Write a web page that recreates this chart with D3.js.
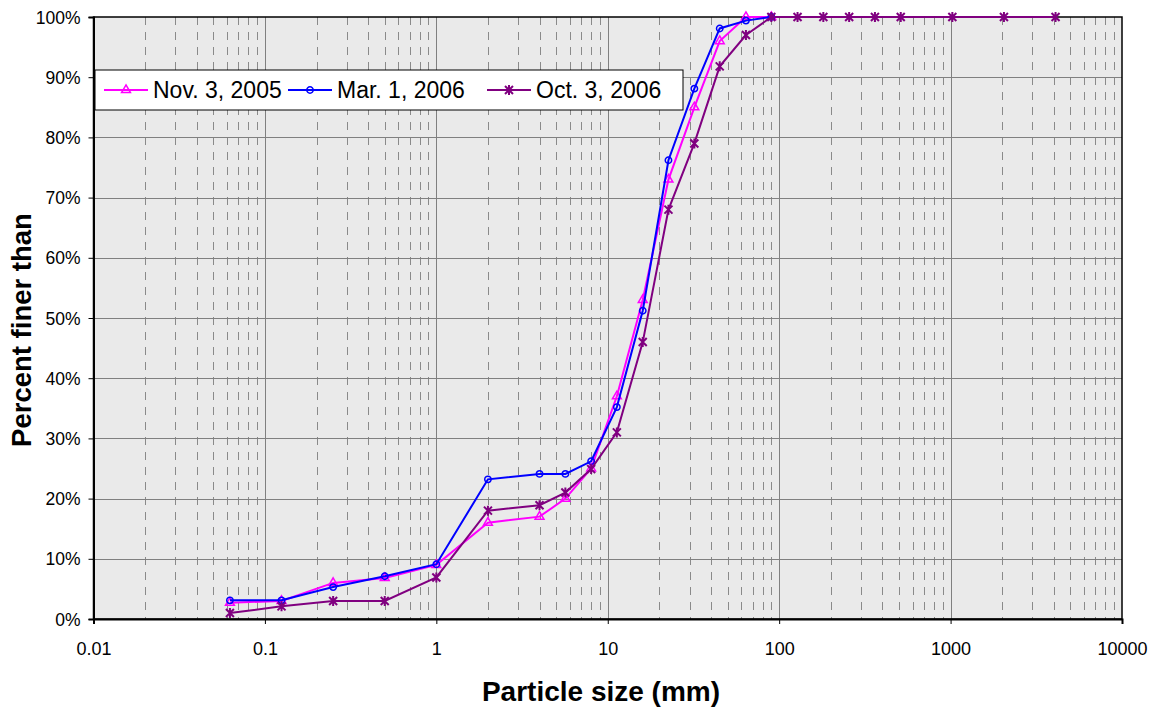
<!DOCTYPE html>
<html>
<head>
<meta charset="utf-8">
<script src="https://cdn.jsdelivr.net/npm/d3@7"></script>
<style>
body { margin: 0; background: #fff; }
text { font-family: Arial, "Liberation Sans", sans-serif; }
</style>
</head>
<body>
<svg id="chart" width="1156" height="711"></svg>
<script>
// sieve sizes (mm)
const sizes = [0.0625, 0.125, 0.25, 0.5, 1, 2, 4, 5.66, 8, 11.3, 16, 22.6, 32, 45, 64, 90,
  128, 181, 256, 362, 512, 1024, 2048, 4096];
const nov2005 = [2.7, 3, 6, 6.8, 9, 16, 17, 20, 25, 37, 53, 73, 85, 96, 100, 100];
const mar2006 = [3.1, 3.1, 5.3, 7.1, 9.1, 23.2, 24.1, 24.1, 26.2, 35.2, 51.2, 76.2, 88.1, 98.1, 99.4, 100];
const oct2006 = [1, 2.1, 3, 3, 6.9, 18, 18.9, 21, 24.9, 31, 46, 68, 79, 91.8, 97, 100,
  100, 100, 100, 100, 100, 100, 100, 100];
const seriesNames = ["Nov. 3, 2005", "Mar. 1, 2006", "Oct. 3, 2006"];
const seriesColors = ["#FF00FF", "#0000FF", "#800080"];
const xTicks = [0.01, 0.1, 1, 10, 100, 1000, 10000];
const yTicks = [0, 10, 20, 30, 40, 50, 60, 70, 80, 90, 100];

const svg = d3.select("#chart");
const pLeft = 93.5, pRight = 1122, pTop = 17, pBottom = 619;

const x = d3.scaleLog().domain([0.01, 10000]).range([pLeft, pRight]);
const y = d3.scaleLinear().domain([0, 100]).range([pBottom, pTop]);

// plot background
svg.append("rect")
  .attr("x", pLeft).attr("y", pTop)
  .attr("width", pRight - pLeft).attr("height", pBottom - pTop)
  .attr("fill", "#EAEAEA");

// minor vertical dashed grid
const minors = [];
for (let e = -2; e < 4; e++) {
  for (let m = 2; m <= 9; m++) minors.push(m * Math.pow(10, e));
}
svg.append("g").selectAll("line")
  .data(minors)
  .join("line")
  .attr("x1", d => Math.round(x(d)) + 0.5).attr("x2", d => Math.round(x(d)) + 0.5)
  .attr("y1", pTop).attr("y2", pBottom)
  .attr("stroke", "#8a8a8a")
  .attr("stroke-width", 1)
  .attr("stroke-dasharray", "8,7");

// major grid
svg.append("g").selectAll("line")
  .data(xTicks.slice(1, -1))
  .join("line")
  .attr("x1", d => Math.round(x(d)) + 0.5).attr("x2", d => Math.round(x(d)) + 0.5)
  .attr("y1", pTop).attr("y2", pBottom)
  .attr("stroke", "#808080");

svg.append("g").selectAll("line")
  .data(yTicks.slice(1, -1))
  .join("line")
  .attr("x1", pLeft).attr("x2", pRight)
  .attr("y1", d => Math.round(y(d)) + 0.5).attr("y2", d => Math.round(y(d)) + 0.5)
  .attr("stroke", "#808080");

// border
svg.append("rect")
  .attr("x", pLeft).attr("y", pTop)
  .attr("width", pRight - pLeft).attr("height", pBottom - pTop)
  .attr("fill", "none").attr("stroke", "#000").attr("stroke-width", 1.5);

// axes
const xAxis = d3.axisBottom(x).tickValues(xTicks).tickFormat(d => String(d)).tickSize(5).tickPadding(18);
const yAxis = d3.axisLeft(y).tickValues(yTicks).tickFormat(d => d + "%").tickSize(5).tickPadding(8);

const gx = svg.append("g").attr("transform", `translate(0,${pBottom})`).call(xAxis);
const gy = svg.append("g").attr("transform", `translate(${pLeft},0)`).call(yAxis);
[gx, gy].forEach(g => {
  g.select(".domain").attr("stroke", "#000").attr("stroke-width", 2);
  g.selectAll(".tick line").attr("stroke", "#000");
  g.selectAll(".tick text").attr("fill", "#000")
    .attr("font-family", "Arial, 'Liberation Sans', sans-serif");
});
gx.selectAll(".tick text").attr("font-size", 18);
gy.selectAll(".tick text").attr("font-size", 17.5).attr("dy", "0.35em");

// axis titles
svg.append("text")
  .attr("x", 601).attr("y", 701)
  .attr("text-anchor", "middle")
  .attr("font-size", 28).attr("font-weight", "bold")
  .text("Particle size (mm)");

svg.append("text")
  .attr("transform", "translate(31, 330) rotate(-90)")
  .attr("text-anchor", "middle")
  .attr("font-size", 27.5).attr("font-weight", "bold")
  .text("Percent finer than");

// markers
function drawMarker(g, kind, color) {
  if (kind === 0) {
    g.append("path").attr("d", d3.symbol(d3.symbolTriangle, 34)())
      .attr("fill", "none").attr("stroke", color).attr("stroke-width", 1.5);
  } else if (kind === 1) {
    g.append("circle").attr("r", 3.2)
      .attr("fill", "none").attr("stroke", color).attr("stroke-width", 1.5);
  } else {
    g.append("path").attr("d", "M-4,-4L4,4M-4,4L4,-4M0,-5L0,5")
      .attr("stroke", color).attr("stroke-width", 2).attr("fill", "none");
  }
}

const seriesData = [nov2005, mar2006, oct2006];
const line = d3.line().x(d => x(d[0])).y(d => y(d[1]));

seriesData.forEach((vals, i) => {
  const pts = vals.map((v, j) => [sizes[j], v]);
  const g = svg.append("g");
  g.append("path").datum(pts)
    .attr("d", line)
    .attr("fill", "none")
    .attr("stroke", seriesColors[i])
    .attr("stroke-width", 2);
  g.selectAll(".mk")
    .data(pts)
    .join("g")
    .attr("transform", d => `translate(${x(d[0])},${y(d[1])})`)
    .each(function () { drawMarker(d3.select(this), i, seriesColors[i]); });
});

// legend
const legend = svg.append("g").attr("transform", "translate(95,70)");
legend.append("rect")
  .attr("width", 588).attr("height", 40)
  .attr("fill", "#fff").attr("stroke", "#000").attr("stroke-width", 1);

const legendX = [9, 193, 392];
const items = legend.selectAll(".item")
  .data(seriesNames)
  .join("g")
  .attr("transform", (d, i) => `translate(${legendX[i]},20)`);
items.append("line")
  .attr("x1", 0).attr("x2", 44)
  .attr("stroke", (d, i) => seriesColors[i]).attr("stroke-width", 2);
items.each(function (d, i) {
  const m = d3.select(this).append("g").attr("transform", "translate(22,0)");
  drawMarker(m, i, seriesColors[i]);
});
items.append("text")
  .attr("x", 49).attr("dy", "0.36em")
  .attr("font-size", 23).attr("fill", "#000")
  .text(d => d);
</script>
</body>
</html>
